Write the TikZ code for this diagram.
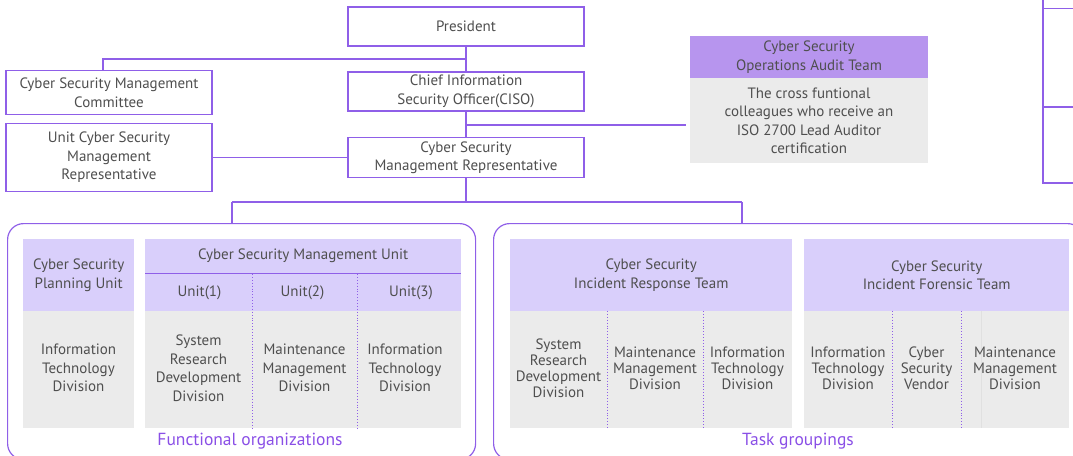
\documentclass[tikz,border=0pt]{standalone}
\usepackage{fontspec}
\setmainfont{PT Sans}
\usetikzlibrary{positioning}
\definecolor{linepurple}{HTML}{8F5FE8}
\definecolor{auditpurple}{HTML}{B795EE}
\definecolor{lavender}{HTML}{D9CFFB}
\definecolor{panelgray}{HTML}{EBEBEB}
\definecolor{textgray}{HTML}{4F4F4F}
\definecolor{labelpurple}{HTML}{8A4FE6}
\begin{document}
\begin{tikzpicture}[
    x=1pt, y=-1pt,
    txt/.style={text=textgray, align=center, font=\fontsize{15}{18.5}\selectfont},
    tight/.style={txt, font=\fontsize{15}{16}\selectfont},
    topbox/.style={txt, draw=linepurple, line width=1.5pt, fill=white, minimum width=236pt, minimum height=39pt},
    sidebox/.style={txt, draw=linepurple, line width=1.5pt, fill=white, minimum width=206pt},
    head/.style={txt, fill=lavender, anchor=north west, inner sep=0pt},
    link/.style={draw=linepurple, line width=1.2pt},
    group/.style={draw=linepurple, line width=1.2pt, rounded corners=16pt, anchor=north west},
    sep/.style={draw=linepurple, line width=0.9pt, dotted},
    grouplabel/.style={text=labelpurple, font=\fontsize{17.5}{20}\selectfont},
]
    \useasboundingbox (0,0) rectangle (1073,455);
    \clip (0,0) rectangle (1073,455);
    % Top of the chart
    \node[topbox] (pres) at (466,26.5) {President};
    \node[topbox] (ciso) at (466,91.5) {Chief Information\\Security Officer(CISO)};
    \node[topbox, minimum height=40pt] (csmr) at (466,157.5) {Cyber Security\\Management Representative};
    \node[sidebox, minimum height=44pt] (comm) at (109,92.5) {Cyber Security Management\\Committee};
    \node[sidebox, minimum height=68pt] (unitrep) at (109,157.5) {Unit Cyber Security\\Management\\Representative};
    % Audit team
    \node[txt, fill=auditpurple, minimum width=238pt, minimum height=42pt] (audith) at (809,57) {Cyber Security\\Operations Audit Team};
    \node[txt, fill=panelgray, minimum width=238pt, minimum height=85pt, below=0pt of audith] (auditb) {The cross funtional\\colleagues who receive an\\ISO 2700 Lead Auditor\\certification};
    % Boxes cut at the right edge
    \draw[link, line width=1.5pt] (1043,-20) rectangle (1120,8.5);
    \draw[link, line width=1.5pt] (1043,8.5) rectangle (1120,107);
    \draw[link, line width=1.5pt] (1043,107) rectangle (1120,183);
    % Connectors
    \coordinate (jcomm) at (466,59);
    \coordinate (jaudit) at (466,125);
    \coordinate (jgroups) at (466,202);
    \coordinate (jfun) at (232,202);
    \coordinate (jtask) at (742,202);
    \draw[link] (pres) -- (ciso);
    \draw[link] (jcomm) -| ([xshift=-6pt]comm.north);
    \draw[link] (ciso) -- (csmr);
    \draw[link] (jaudit) -- ([xshift=-4pt]auditb.west |- jaudit);
    \draw[link] (unitrep.east) -- (csmr.west);
    \draw[link] (csmr) -- (jgroups);
    \draw[link] (jfun) -- (jtask);
    % Group frames
    \node[group, minimum width=468pt, minimum height=236pt] (funframe) at (7,223) {};
    \node[group, minimum width=590pt, minimum height=236pt] (taskframe) at (493,223) {};
    \draw[link] (jfun) -- (jfun |- funframe.north);
    \draw[link] (jtask) -- (jtask |- taskframe.north);
    % Functional organizations
    \node[head, minimum width=111pt, minimum height=72pt] (planhead) at (23,239) {Cyber Security\\Planning Unit};
    \fill[panelgray] (23,311) rectangle (134,428);
    \node[txt] (planit) at (78.5,368) {Information\\Technology\\Division};
    \node[head, minimum width=316pt, minimum height=34pt] (mgmthead) at (145,239) {Cyber Security Management Unit};
    \fill[lavender] (145,273) rectangle (461,311);
    \fill[panelgray] (145,311) rectangle (461,428);
    \draw[linepurple, line width=1.5pt] (mgmthead.south west) -- (mgmthead.south east);
    \foreach \x in {252,357} \draw[sep] (\x,274) -- (\x,428);
    \foreach \x/\n in {199.5/1,302.5/2,411/3} \node[txt] (unit\n) at (\x,293) {Unit(\n)};
    \node[txt] (unitsrd) at (198.5,368) {System\\Research\\Development\\Division};
    \node[txt] (unitmm) at (304.5,368) {Maintenance\\Management\\Division};
    \node[txt] (unitit) at (405,368) {Information\\Technology\\Division};
    \node[grouplabel] (funlabel) at (250,441) {Functional organizations};
    % Task groupings
    \node[head, minimum width=282pt, minimum height=72pt] (resphead) at (510,239) {Cyber Security\\Incident Response Team};
    \fill[panelgray] (510,311) rectangle (792,428);
    \foreach \x in {607,703} \draw[sep] (\x,311) -- (\x,428);
    \node[tight] (respsrd) at (558.5,368) {System\\Research\\Development\\Division};
    \node[tight] (respmm) at (655,368) {Maintenance\\Management\\Division};
    \node[tight] (respit) at (747.5,368) {Information\\Technology\\Division};
    \node[head, minimum width=265pt, minimum height=72pt] (forhead) at (804,239) {Cyber Security\\Incident Forensic Team};
    \fill[panelgray] (804,311) rectangle (1069,428);
    \draw[black!12, line width=1pt] (981,311) -- (981,428);
    \foreach \x in {892,961} \draw[sep] (\x,311) -- (\x,428);
    \node[tight] (forit) at (848,368) {Information\\Technology\\Division};
    \node[tight] (forvendor) at (926.5,368) {Cyber\\Security\\Vendor};
    \node[tight] (formm) at (1015,368) {Maintenance\\Management\\Division};
    \node[grouplabel] (tasklabel) at (798,441) {Task groupings};
\end{tikzpicture}
\end{document}
